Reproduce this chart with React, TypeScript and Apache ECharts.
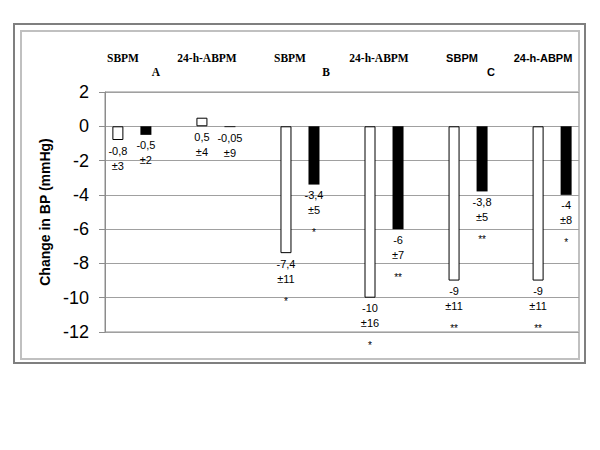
import React, { useEffect, useRef } from "react";
import * as echarts from "echarts";

const categories = ["A SBPM", "A 24-h-ABPM", "B SBPM", "B 24-h-ABPM", "C SBPM", "C 24-h-ABPM"];
const whiteValues = [-0.8, 0.5, -7.4, -10, -9, -9];
const blackValues = [-0.5, -0.05, -3.4, -6, -3.8, -4];
const whiteSD = ["±3", "±4", "±11", "±16", "±11", "±11"];
const blackSD = ["±2", "±9", "±5", "±7", "±5", "±8"];
const whiteSig = ["", "", "*", "*", "**", "**"];
const blackSig = ["", "", "*", "**", "**", "*"];
const yTicks = [-12, -10, -8, -6, -4, -2, 0, 2];
const methodLabels = ["SBPM", "24-h-ABPM", "SBPM", "24-h-ABPM", "SBPM", "24-h-ABPM"];
const groupLabels = ["A", "B", "C"];

const SANS = "'Liberation Sans', Arial, sans-serif";
const SERIF = "'Liberation Serif', 'Times New Roman', serif";

const fmt = (v: number) => String(v).replace(".", ",");

export default function App() {
  const ref = useRef<HTMLDivElement>(null);
  useEffect(() => {
    if (!ref.current) return;
    const chart = echarts.init(ref.current, undefined, { renderer: "svg" });
    const offset = 1 / 6;
    const makeLabel = (sds: string[], sigs: string[], vals: number[]) => ({
      show: true,
      position: "bottom",
      distance: 3,
      align: "center",
      color: "#000",
      formatter: (p: any) => {
        const i = p.dataIndex;
        let s = `{v|${fmt(vals[i])}}\n{s|${sds[i]}}`;
        if (sigs[i]) s += `\n{st|${sigs[i]}}`;
        return s;
      },
      rich: {
        v: { fontSize: 11, lineHeight: 15, fontFamily: SANS, color: "#000", align: "center" },
        s: { fontSize: 11, lineHeight: 15, fontFamily: SANS, color: "#000", align: "center" },
        st: { fontSize: 10, lineHeight: 30, fontFamily: SANS, color: "#000", align: "center" },
      },
    });

    const methodX = [123, 207, 290, 379, 462, 543];
    const groupX = [156, 326, 491];
    const graphics: any[] = [
      {
        type: "rect",
        shape: { x: 14, y: 24, width: 571, height: 339 },
        style: { fill: "none", stroke: "#7f7f7f", lineWidth: 2 },
        silent: true,
      },
      {
        type: "rect",
        shape: { x: 21, y: 31, width: 558, height: 328 },
        style: { fill: "none", stroke: "#c0c0c0", lineWidth: 2 },
        silent: true,
      },
    ];
    methodLabels.forEach((t, i) => {
      const isC = i >= 4;
      graphics.push({
        type: "text",
        x: methodX[i],
        y: 58,
        style: {
          text: t,
          fontSize: isC ? 11 : 11.5,
          fontWeight: "bold",
          fontFamily: isC ? SANS : SERIF,
          fill: "#000",
          align: "center",
          verticalAlign: "middle",
        },
      });
    });
    groupLabels.forEach((t, i) => {
      const isC = i === 2;
      graphics.push({
        type: "text",
        x: groupX[i],
        y: 72,
        style: {
          text: t,
          fontSize: isC ? 11 : 11.5,
          fontWeight: "bold",
          fontFamily: isC ? SANS : SERIF,
          fill: "#000",
          align: "center",
          verticalAlign: "middle",
        },
      });
    });

    chart.setOption({
      animation: false,
      backgroundColor: "#fff",
      grid: {
        left: 105,
        top: 92,
        width: 474,
        height: 240,
        show: true,
        borderColor: "#8c8c8c",
        borderWidth: 1,
        containLabel: false,
      },
      xAxis: {
        type: "value",
        min: -0.32,
        max: categories.length - 0.68,
        show: false,
      },
      yAxis: {
        type: "value",
        min: yTicks[0],
        max: yTicks[yTicks.length - 1],
        interval: 2,
        name: "Change in BP (mmHg)",
        nameLocation: "middle",
        nameGap: 53,
        nameTextStyle: { fontSize: 14, fontWeight: "bold", fontFamily: SANS, color: "#000" },
        axisLine: { show: true, onZero: false, lineStyle: { color: "#8c8c8c", width: 1 } },
        axisTick: { show: true, length: 6, lineStyle: { color: "#8c8c8c" } },
        axisLabel: { fontSize: 18, fontFamily: SANS, color: "#000", margin: 16 },
        splitLine: { show: true, lineStyle: { color: "#a0a0a0", width: 1 } },
      },
      series: [
        {
          name: "white",
          type: "bar",
          barWidth: 11,
          barGap: "-100%",
          data: whiteValues.map((v, i) => [i - offset, v]),
          itemStyle: { color: "#fff", borderColor: "#000", borderWidth: 1 },
          label: makeLabel(whiteSD, whiteSig, whiteValues),
        },
        {
          name: "black",
          type: "bar",
          barWidth: 11,
          barGap: "-100%",
          data: blackValues.map((v, i) => [i + offset, v]),
          itemStyle: { color: "#000" },
          label: makeLabel(blackSD, blackSig, blackValues),
        },
      ],
      graphic: graphics,
    });
    return () => chart.dispose();
  }, []);
  return (
    <div
      ref={ref}
      style={{ position: "fixed", left: 0, top: 0, width: 600, height: 450, background: "#fff" }}
    />
  );
}
